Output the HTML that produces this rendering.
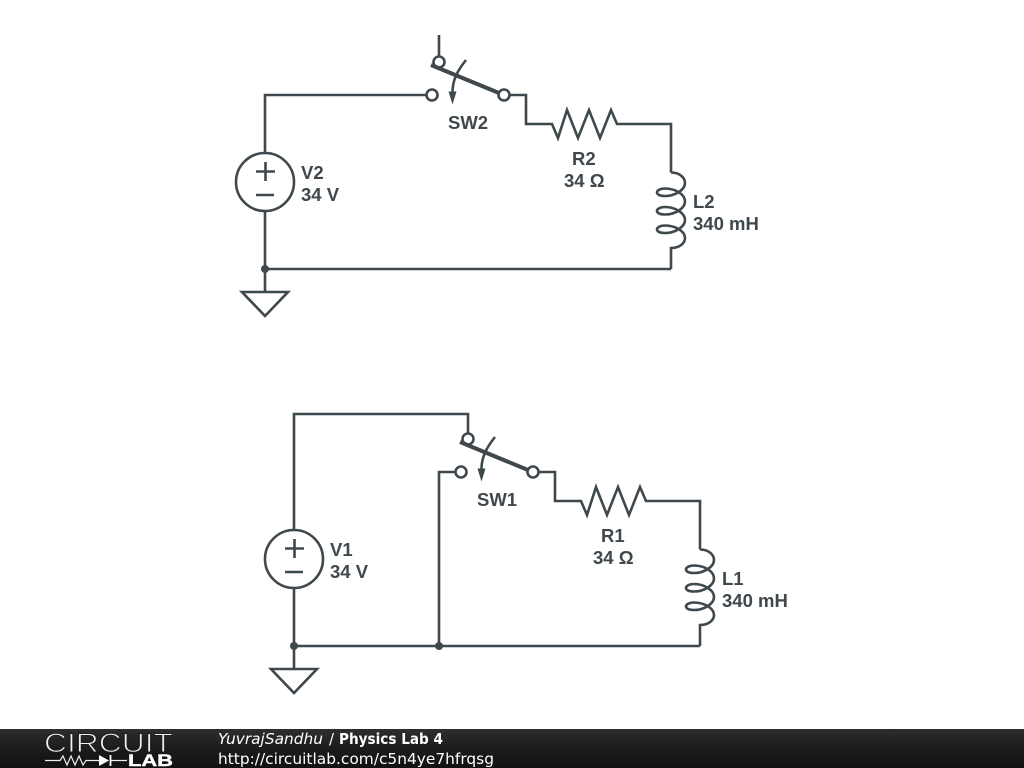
<!DOCTYPE html>
<html>
<head>
<meta charset="utf-8">
<style>
html,body{margin:0;padding:0;background:#fff;width:1024px;height:768px;overflow:hidden}
svg{display:block}
.w{fill:none;stroke:#3f484d;stroke-width:2.6;stroke-linejoin:miter}
.t{font-family:"Liberation Sans",Arial,sans-serif;font-weight:bold;font-size:18.5px;fill:#3f484d}
.f{font-family:"DejaVu Sans",sans-serif;font-size:15px;fill:#fff}
</style>
</head>
<body>
<svg width="1024" height="768" viewBox="0 0 1024 768" xmlns="http://www.w3.org/2000/svg">
<defs>
<linearGradient id="g" x1="0" y1="0" x2="0" y2="1">
<stop offset="0" stop-color="#2e2e2e"/>
<stop offset="0.5" stop-color="#1c1c1c"/>
<stop offset="1" stop-color="#111"/>
</linearGradient>
<g id="switch">
<circle class="w" cx="504" cy="95" r="5.500"/>
<path class="w" d="M431 65L499 93" style="stroke-width:4"/>
<path class="w" d="M466 60C458 70 452 80 452.500 94"/>
<path d="M448.500 91.500L456.500 91.500L452.500 104.500Z" fill="#3f484d"/>
</g>
<g id="rlc">
<path class="w" d="M510 95H526V124H552L558 138L567 110L578 138L589 110L600 138L611 110L617 124H671V172.500"/>
<path class="w" d="M671 172.500C680 172.500 685 178 685 183C685 190 675 196 665 196C659 196 657 194 657 192.500C657 190 661 188.500 665 188.500C675 188.500 685 194 685 201.500C685 208.500 675 214.500 665 214.500C659 214.500 657 212.500 657 211C657 208.500 661 207 665 207C675 207 685 213 685 220C685 227 675 233 665 233C659 233 657 231 657 229.500C657 227 661 225.500 665 225.500C675 225.500 685 231 685 238C685 243 680 248 671 248V269"/>
</g>
<g id="source">
<circle class="w" cx="265" cy="182" r="29"/>
<path class="w" d="M256 171.500H275M265.500 162V181M256 195H274"/>
<path class="w" d="M265 211V292"/>
<circle cx="265" cy="269" r="4" fill="#3f484d"/>
<path class="w" d="M242 292H288L265 316Z"/>
</g>
</defs>

<!-- top circuit -->
<path class="w" d="M265 153V95H426.500"/>
<circle class="w" cx="432" cy="95" r="5.500"/>
<path class="w" d="M439 35V56.500"/>
<circle class="w" cx="439" cy="62" r="5.500"/>
<use href="#switch"/>
<use href="#rlc"/>
<use href="#source"/>
<path class="w" d="M265 269H671"/>
<text class="t" x="448" y="129">SW2</text>
<text class="t" x="572" y="165">R2</text>
<text class="t" x="564" y="187">34 Ω</text>
<text class="t" x="693" y="208">L2</text>
<text class="t" x="693" y="230">340 mH</text>
<text class="t" x="301" y="179">V2</text>
<text class="t" x="301" y="201">34 V</text>

<!-- bottom circuit -->
<path class="w" d="M294 530V414H468V433.500"/>
<circle class="w" cx="468" cy="439" r="5.500"/>
<circle class="w" cx="461" cy="472" r="5.500"/>
<path class="w" d="M455.500 472H439V646"/>
<g transform="translate(29 377)">
<use href="#switch"/>
<use href="#rlc"/>
<use href="#source"/>
</g>
<path class="w" d="M294 646H700"/>
<circle cx="439" cy="646" r="4" fill="#3f484d"/>
<text class="t" x="477" y="506">SW1</text>
<text class="t" x="601" y="542">R1</text>
<text class="t" x="593" y="564">34 Ω</text>
<text class="t" x="722" y="585">L1</text>
<text class="t" x="722" y="607">340 mH</text>
<text class="t" x="330" y="556">V1</text>
<text class="t" x="330" y="578">34 V</text>

<!-- footer -->
<rect x="0" y="729" width="1024" height="39" fill="url(#g)"/>
<text x="44" y="752" font-family="Liberation Sans,sans-serif" font-size="26.500" fill="#f2f2f2" stroke="#1f1f1f" stroke-width="1" paint-order="fill stroke" textLength="129" lengthAdjust="spacingAndGlyphs">CIRCUIT</text>
<path d="M45 760.500H60L63 756L67 765L71 756L75 765L79 756L83 765L86 760.500H99M110 760.500H127" fill="none" stroke="#eee" stroke-width="1.200"/>
<path d="M99 755V766L109 760.500Z" fill="#fff"/>
<path d="M110.500 755V766" stroke="#fff" stroke-width="1.800"/>
<text x="128" y="766" font-family="Liberation Sans,sans-serif" font-weight="bold" font-size="16.500" fill="#fff" stroke="#fff" stroke-width="0.400" textLength="45" lengthAdjust="spacingAndGlyphs">LAB</text>
<text class="f" x="218" y="744" font-style="italic" textLength="105" lengthAdjust="spacingAndGlyphs">YuvrajSandhu</text>
<text class="f" x="329" y="744">/</text>
<text class="f" x="339" y="744" font-weight="bold" textLength="104" lengthAdjust="spacingAndGlyphs">Physics Lab 4</text>
<text class="f" x="218" y="764" textLength="276" lengthAdjust="spacingAndGlyphs">http://circuitlab.com/c5n4ye7hfrqsg</text>
</svg>
</body>
</html>
